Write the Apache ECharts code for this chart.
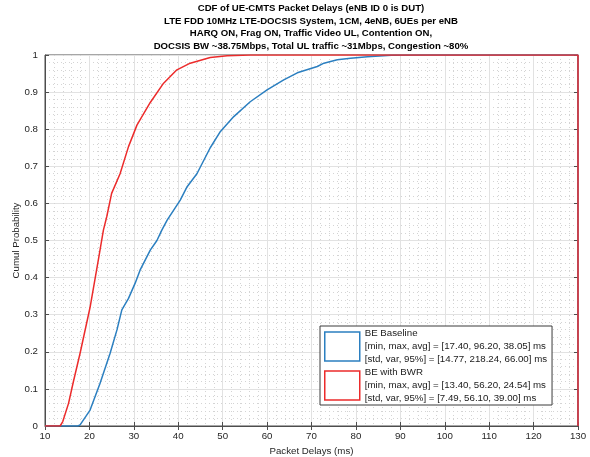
<!DOCTYPE html>
<html>
<head>
<meta charset="utf-8">
<script src="https://cdn.jsdelivr.net/npm/echarts@6/dist/echarts.min.js"></script>
<style>
html,body{margin:0;padding:0;background:#fff;}
#chart{width:590px;height:457px;}
</style>
</head>
<body>
<div id="chart"></div>
<script>
// ---- Data ----
const titleLines = [
  'CDF of UE-CMTS Packet Delays (eNB ID 0 is DUT)',
  'LTE FDD 10MHz LTE-DOCSIS System, 1CM, 4eNB, 6UEs per eNB',
  'HARQ ON, Frag ON, Traffic Video UL, Contention ON,',
  'DOCSIS BW ~38.75Mbps, Total UL traffic ~31Mbps, Congestion ~80%'
];
const seriesNames = ['BE Baseline', 'BE with BWR'];
const statLines = {
  'BE Baseline': ['[min, max, avg] = [17.40, 96.20, 38.05] ms', '[std, var, 95%] = [14.77, 218.24, 66.00] ms'],
  'BE with BWR': ['[min, max, avg] = [13.40, 56.20, 24.54] ms', '[std, var, 95%] = [7.49, 56.10, 39.00] ms']
};
const xBaseline = [10, 17.4, 17.9, 20.15, 22.4, 24.66, 26.2, 27.3, 28.8, 30.3, 31.4, 33.7, 35.2, 36.3, 37.5, 40.45, 42.0, 44.2, 47.2, 49.5, 52.5, 56.2, 60.0, 63.75, 66.8, 71.3, 72.8, 75.8, 78.8, 82.6, 88.0, 96.2, 130, 130];
const yBaseline = [0, 0, 0.003, 0.043, 0.115, 0.196, 0.259, 0.313, 0.344, 0.385, 0.42, 0.474, 0.50, 0.528, 0.555, 0.609, 0.645, 0.68, 0.75, 0.794, 0.834, 0.874, 0.906, 0.933, 0.952, 0.969, 0.978, 0.987, 0.991, 0.995, 0.999, 1, 1, 0];
const xBWR = [10, 13.4, 14.0, 15.3, 16.4, 17.9, 20.15, 22.0, 23.15, 23.9, 25.0, 26.9, 28.8, 30.7, 33.7, 36.7, 39.7, 42.7, 47.2, 51.0, 56.2, 130, 130];
const yBWR = [0, 0, 0.012, 0.061, 0.12, 0.196, 0.32, 0.447, 0.528, 0.564, 0.627, 0.68, 0.753, 0.811, 0.872, 0.924, 0.96, 0.978, 0.993, 0.998, 1, 1, 0];
const xTicks = {min: 10, max: 130, interval: 10};
const yTicks = {min: 0, max: 1, interval: 0.1};

const colors = {'BE Baseline': '#2b7fc0', 'BE with BWR': '#ec2b2b'};

function zip(xs, ys) { return xs.map((x, i) => [x, ys[i]]); }

const chart = echarts.init(document.getElementById('chart'), null, {renderer: 'canvas'});
const font = '"Liberation Sans", Arial, Helvetica, sans-serif';
const fs = 9.7;
const axisCommon = {
  axisLine: {show: true, onZero: false, lineStyle: {color: '#4d4d4d', width: 1}},
  axisTick: {show: true, inside: true, length: 4, lineStyle: {color: '#4d4d4d'}},
  splitLine: {show: true, lineStyle: {color: '#e2e2e2', width: 1}},
  minorTick: {show: false, splitNumber: 5},
  minorSplitLine: {show: true, lineStyle: {color: '#d4d4d4', width: 1, type: [1, 3]}}
};

const option = {
  backgroundColor: '#fff',
  animation: false,
  textStyle: {fontFamily: font},
  title: {
    text: titleLines.join('\n'),
    left: 311, textAlign: 'center', top: 2, padding: 0,
    textStyle: {fontSize: 9.6, fontWeight: 'bold', color: '#000', lineHeight: 12.7, fontFamily: font}
  },
  grid: {left: 45, right: 12, top: 55, bottom: 31, outerBoundsMode: 'none', containLabel: false,
         show: true, borderColor: '#4d4d4d', borderWidth: 1, backgroundColor: 'transparent'},
  legend: {
    orient: 'vertical', left: 320, top: 326,
    padding: [1, 5, 0, 4], itemGap: 0, itemWidth: 35, itemHeight: 29,
    backgroundColor: '#fff', borderColor: '#3a3a3a', borderWidth: 1,
    selectedMode: false,
    textStyle: {fontSize: fs, lineHeight: 13, color: '#1a1a1a', fontFamily: font},
    formatter: name => [name].concat(statLines[name]).join('\n'),
    data: seriesNames.map(n => ({name: n, icon: 'rect', itemStyle: {color: 'rgba(0,0,0,0)', borderColor: colors[n], borderWidth: 1.5}}))
  },
  xAxis: [Object.assign({
    type: 'value', min: xTicks.min, max: xTicks.max, interval: xTicks.interval,
    name: 'Packet Delays (ms)', nameLocation: 'middle', nameGap: 20, nameMoveOverlap: false,
    nameTextStyle: {fontSize: fs, color: '#262626'},
    axisLabel: {fontSize: fs, color: '#262626', margin: 5}
  }, axisCommon), {
    type: 'value', position: 'top', min: xTicks.min, max: xTicks.max, interval: xTicks.interval,
    axisLine: {show: false}, axisTick: {show: true, inside: true, length: 4, lineStyle: {color: '#4d4d4d'}},
    axisLabel: {show: false}, splitLine: {show: false}
  }],
  yAxis: [Object.assign({
    type: 'value', min: yTicks.min, max: yTicks.max, interval: yTicks.interval,
    name: 'Cumul Probability', nameLocation: 'middle', nameGap: 24, nameMoveOverlap: false,
    nameTextStyle: {fontSize: fs, color: '#262626'},
    axisLabel: {fontSize: fs, color: '#262626', margin: 7}
  }, axisCommon), {
    type: 'value', position: 'right', min: yTicks.min, max: yTicks.max, interval: yTicks.interval,
    axisLine: {show: false}, axisTick: {show: true, inside: true, length: 4, lineStyle: {color: '#4d4d4d'}},
    axisLabel: {show: false}, splitLine: {show: false}
  }],
  series: [
    {name: 'BE Baseline', type: 'line', showSymbol: false, symbol: 'none', color: colors['BE Baseline'],
     lineStyle: {width: 1.5, color: colors['BE Baseline']}, data: zip(xBaseline, yBaseline), z: 3},
    {name: 'BE with BWR', type: 'line', showSymbol: false, symbol: 'none', color: colors['BE with BWR'],
     lineStyle: {width: 1.5, color: colors['BE with BWR']}, data: zip(xBWR, yBWR), z: 4}
  ]
};
chart.setOption(option);
</script>
</body>
</html>
